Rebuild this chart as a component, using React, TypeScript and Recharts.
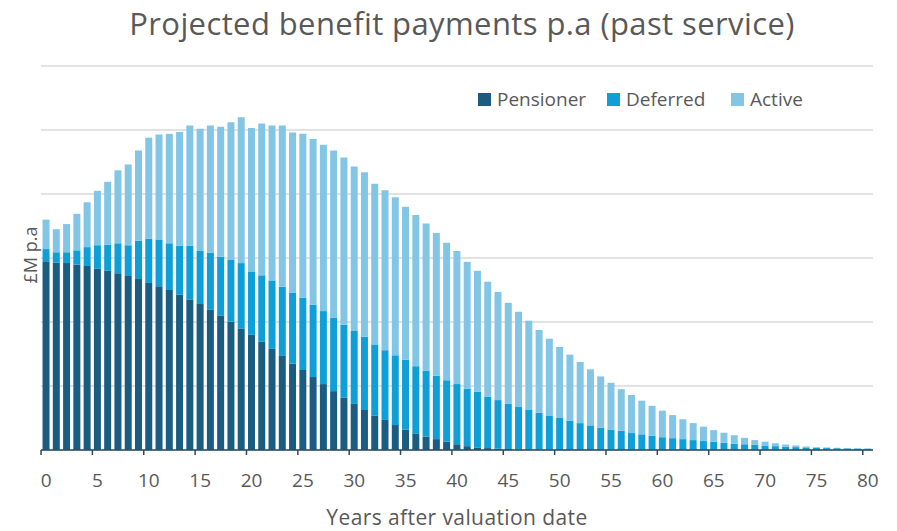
import { BarChart, Bar, XAxis, YAxis, CartesianGrid } from "recharts";

// years after valuation date
const years = Array.from({ length: 81 }, (_, i) => i);

// £M p.a (one gridline = 10)
const pensioner = [
  29.5, 29.3, 29.2, 29.0, 28.75, 28.3, 28.0, 27.6, 27.2, 26.7,
  26.1, 25.6, 25.0, 24.3, 23.5, 22.8, 21.9, 21.0, 20.05, 19.0,
  18.0, 16.9, 15.8, 14.7, 13.5, 12.5, 11.4, 10.3, 9.2, 8.2,
  7.2, 6.25, 5.4, 4.7, 3.9, 3.2, 2.6, 2.1, 1.7, 1.3,
  0.9, 0.6, 0.4, 0.3, 0.2, 0.15, 0.1, 0.07, 0.05, 0.03,
  0.02, 0.01, 0, 0, 0, 0, 0, 0, 0, 0,
  0, 0, 0, 0, 0, 0, 0, 0, 0, 0,
  0, 0, 0, 0, 0, 0, 0, 0, 0, 0, 0,
];

const deferred = [
  1.9, 1.6, 1.7, 2.2, 2.95, 3.7, 4.1, 4.7, 4.8, 6.0,
  6.9, 7.3, 7.3, 7.6, 8.4, 8.3, 8.9, 9.2, 9.65, 10.2,
  9.9, 10.4, 10.7, 10.8, 11.1, 11.3, 11.3, 11.4, 11.5, 11.4,
  11.4, 11.45, 11.1, 10.9, 10.9, 10.9, 10.5, 10.3, 9.9, 9.6,
  9.4, 9.0, 8.7, 8.0, 7.6, 7.05, 6.7, 6.18, 5.75, 5.37,
  4.98, 4.59, 4.2, 3.85, 3.5, 3.2, 3.0, 2.65, 2.45, 2.25,
  2.0, 1.85, 1.7, 1.55, 1.4, 1.3, 1.15, 1.0, 0.9, 0.8,
  0.7, 0.6, 0.5, 0.45, 0.4, 0.35, 0.3, 0.28, 0.25, 0.22, 0.2,
];

const active = [
  4.6, 3.6, 4.4, 5.7, 7.0, 8.5, 9.8, 11.4, 12.6, 14.1,
  15.8, 16.4, 17.1, 17.8, 18.8, 19.1, 19.9, 20.3, 21.5, 22.8,
  22.4, 23.7, 24.2, 25.2, 25.0, 25.6, 25.9, 26.0, 26.1, 26.1,
  25.7, 25.7, 25.1, 25.0, 24.7, 23.9, 23.6, 23.0, 22.3, 21.5,
  20.8, 19.8, 18.9, 18.0, 16.9, 15.8, 14.8, 13.95, 12.95, 12.0,
  11.1, 10.3, 9.55, 8.75, 8.0, 7.3, 6.5, 5.95, 5.25, 4.65,
  4.15, 3.6, 3.1, 2.65, 2.25, 1.8, 1.55, 1.3, 1.0, 0.75,
  0.6, 0.45, 0.35, 0.25, 0.15, 0.1, 0.1, 0.07, 0.05, 0.06, 0.05,
];

const yTicks = [0, 10, 20, 30, 40, 50, 60];

const series = [
  { key: "pensioner", name: "Pensioner", color: "#1a5d80", left: 478 },
  { key: "deferred", name: "Deferred", color: "#0f9fd8", left: 607 },
  { key: "active", name: "Active", color: "#83c5e4", left: 731 },
];

const data = years.map((year, i) => ({
  year,
  pensioner: pensioner[i],
  deferred: deferred[i],
  active: active[i],
}));

const FONT = "'Open Sans', sans-serif";
const TEXT = "#595959";
const AXIS = "#2a4a63";

function YearTick(props: any) {
  const { x, y, payload } = props;
  // Excel puts the tick mark on the category's left edge, label in the middle
  return (
    <g>
      <line x1={x - 5.1} x2={x - 5.1} y1={y} y2={y + 5} stroke={AXIS} strokeWidth={1.5} />
      <text x={x} y={y + 37} textAnchor="middle" fill={TEXT} fontSize={19} fontFamily={FONT}>
        {payload.value}
      </text>
    </g>
  );
}

export default function App() {
  return (
    <div style={{ position: "absolute", left: 0, top: 0, width: 897, height: 531, background: "#fff", fontFamily: FONT }}>
      <div style={{ position: "absolute", top: 2, left: 0, width: 924, textAlign: "center", fontSize: 31, color: TEXT, letterSpacing: 0.4 }}>
        Projected benefit payments p.a (past service)
      </div>

      {series.map((s) => (
        <div
          key={s.key}
          style={{ position: "absolute", top: 86, left: s.left, display: "flex", alignItems: "center", fontSize: 19, color: TEXT, whiteSpace: "nowrap" }}
        >
          <span style={{ width: 13, height: 13, background: s.color, marginRight: 6, display: "inline-block" }} />
          {s.name}
        </div>
      ))}

      <div
        style={{
          position: "absolute", left: 30, top: 255, fontSize: 18, color: TEXT, whiteSpace: "nowrap",
          transform: "translate(-50%, -50%) rotate(-90deg)",
        }}
      >
        £M p.a
      </div>

      <div style={{ position: "absolute", top: 503, left: 0, width: 914, textAlign: "center", fontSize: 21, color: TEXT, letterSpacing: 0.4 }}>
        Years after valuation date
      </div>

      <BarChart
        width={897}
        height={531}
        data={data}
        margin={{ top: 66, right: 24, left: 41, bottom: 51 }}
        barCategoryGap="15%"
      >
        <CartesianGrid vertical={false} stroke="#d9d9d9" strokeWidth={1.5} />
        <YAxis hide domain={[0, 60]} ticks={yTicks} />
        <XAxis
          dataKey="year"
          interval={4}
          height={30}
          tickSize={0}
          tickMargin={0}
          tickLine={false}
          axisLine={{ stroke: AXIS, strokeWidth: 1.5 }}
          tick={<YearTick />}
        />
        {series.map((s) => (
          <Bar key={s.key} dataKey={s.key} name={s.name} stackId="a" fill={s.color} isAnimationActive={false} />
        ))}
      </BarChart>
    </div>
  );
}
